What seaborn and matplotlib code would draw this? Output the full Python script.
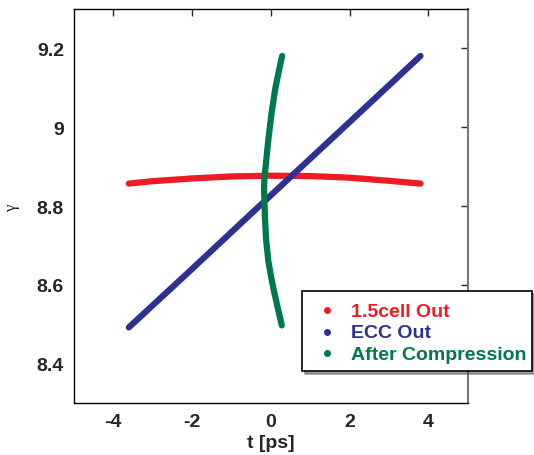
import matplotlib
matplotlib.use("Agg")
import matplotlib.pyplot as plt
from matplotlib.lines import Line2D
import pandas as pd
import seaborn as sns

# values
t_cell = [-3.6, -3.0, -2.0, -1.0, 0.0, 1.0, 2.0, 3.0, 3.8]
g_cell = [8.857, 8.863, 8.870, 8.875, 8.877, 8.876, 8.872, 8.864, 8.857]

t_ecc = [-3.6, -2.0, 0.0, 2.0, 3.8]
g_ecc = [8.492, 8.640, 8.827, 9.013, 9.181]

t_comp = [0.29, 0.20, 0.11, 0.02, -0.06, -0.12, -0.16, -0.17, -0.15, -0.12, -0.06, 0.01, 0.08, 0.17, 0.28]
g_comp = [9.181, 9.140, 9.095, 9.035, 8.969, 8.910, 8.870, 8.843, 8.780, 8.717, 8.660, 8.620, 8.585, 8.545, 8.497]

labels = ["1.5cell Out", "ECC Out", "After Compression"]
colors = ["#ED1C24", "#2E3192", "#00794A"]

sns.set_style("white")
plt.rcParams["font.family"] = ["Liberation Sans", "DejaVu Sans"]

fig = plt.figure(figsize=(5.34, 4.56), dpi=100)
ax = fig.add_axes([0.138, 0.114, 0.738, 0.864])

series = [(t_cell, g_cell), (t_ecc, g_ecc), (t_comp, g_comp)]
for (t, g), c in zip(series, colors):
    df = pd.DataFrame({"t": t, "g": g})
    sns.lineplot(data=df, x="t", y="g", sort=False, estimator=None, color=c,
                 linewidth=4.5, solid_capstyle="round", ax=ax)

ax.set_xlim(-5, 5)
ax.set_ylim(8.3, 9.3)
ax.set_xticks([-4, -2, 0, 2, 4])
ax.set_xticklabels(["-4", "-2", "0", "2", "4"])
ax.set_yticks([8.4, 8.6, 8.8, 9.0, 9.2])
ax.set_yticklabels(["8.4", "8.6", "8.8", "9", "9.2"])
ax.tick_params(direction="in", length=5, width=1, top=True, right=True,
               labelsize=14, pad=7)
for lab in ax.get_xticklabels() + ax.get_yticklabels():
    lab.set_fontweight("bold")
for s in ax.spines.values():
    s.set_color("black")
    s.set_linewidth(1)
ax.spines["right"].set_color("#777777")
ax.spines["right"].set_linewidth(1.5)

ax.set_xlabel("t [ps]", fontsize=14, fontweight="bold", labelpad=3)
ax.set_ylabel("γ", fontsize=12, family=["Liberation Serif", "DejaVu Serif"],
              rotation=90, labelpad=12)

handles = [Line2D([], [], linestyle="none", marker="o", markersize=4,
                  color=c) for c in colors]
leg = ax.legend(handles, labels, loc="upper left",
                bbox_to_anchor=(302 / 534, 1 - 292 / 456),
                bbox_transform=fig.transFigure, frameon=True, fancybox=False,
                shadow=True, framealpha=1, edgecolor="black",
                prop={"size": 14, "weight": "bold"}, handletextpad=0.28,
                labelspacing=-0.12, borderpad=0.32, handlelength=1.9,
                handleheight=1.53, borderaxespad=0)
leg.get_frame().set_linewidth(1.2)
for txt, c in zip(leg.get_texts(), colors):
    txt.set_color(c)
# drop the dots down to the middle of the text
for h in leg.legend_handles:
    h.set_ydata([y - 2.5 for y in h.get_ydata()])
leg.set_zorder(10)

fig.savefig("out.png", dpi=100)
